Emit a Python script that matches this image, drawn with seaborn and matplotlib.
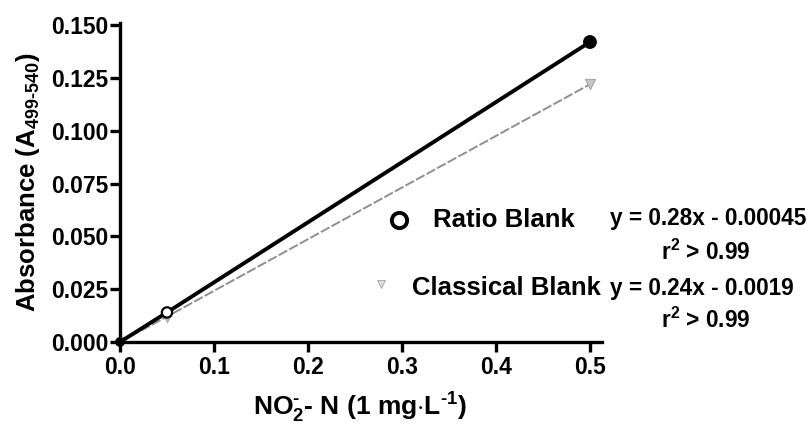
import matplotlib
matplotlib.use("Agg")
import matplotlib.pyplot as plt
import seaborn as sns
import pandas as pd

# ---- data ----
conc = [0.0, 0.05, 0.5]
ratio_abs = [0.0, 0.0140, 0.142]
classical_abs = [0.0, 0.0120, 0.122]
x_ticks = [0.0, 0.1, 0.2, 0.3, 0.4, 0.5]
x_tick_labels = ["0.0", "0.1", "0.2", "0.3", "0.4", "0.5"]
y_ticks = [0.0, 0.025, 0.05, 0.075, 0.1, 0.125, 0.15]
y_tick_labels = ["0.000", "0.025", "0.050", "0.075", "0.100", "0.125", "0.150"]
series_names = ["Ratio Blank", "Classical Blank"]
equations = ["y = 0.28x - 0.00045", "y = 0.24x - 0.0019"]
r2_text = r"r$^{2}$ > 0.99"

sns.set_theme(style="ticks")
plt.rcParams["font.family"] = ["Liberation Sans", "DejaVu Sans"]
plt.rcParams["font.weight"] = "bold"
plt.rcParams["text.color"] = "black"
plt.rcParams["axes.labelcolor"] = "black"
plt.rcParams["mathtext.fontset"] = "custom"
plt.rcParams["mathtext.rm"] = "Liberation Sans:bold"
plt.rcParams["mathtext.bf"] = "Liberation Sans:bold"
plt.rcParams["mathtext.it"] = "Liberation Sans:bold"
plt.rcParams["mathtext.sf"] = "Liberation Sans:bold"
plt.rcParams["mathtext.default"] = "rm"

W, H = 809, 430
fig = plt.figure(figsize=(W / 100, H / 100), dpi=100)
fig.patch.set_facecolor("white")
ax = fig.add_axes([120 / W, 1 - 342 / H, (602 - 120) / W, (342 - 23) / H])
ax.set_facecolor("white")

df_r = pd.DataFrame({"x": conc, "y": ratio_abs})
df_c = pd.DataFrame({"x": conc, "y": classical_abs})

sns.lineplot(data=df_c, x="x", y="y", ax=ax, color="#8f8f8f", lw=1.4,
             dashes=False, zorder=2)
ax.lines[-1].set_dashes((5, 1.2))
sns.scatterplot(data=df_c, x="x", y="y", ax=ax, marker="v", s=55,
                color="#c4c4c4", edgecolor="#9a9a9a", linewidth=0.6, zorder=3)

sns.lineplot(data=df_r, x="x", y="y", ax=ax, color="black", lw=2.8, zorder=4)
ax.scatter(conc, ratio_abs, s=[30, 55, 70], facecolors=["black", "white", "black"],
           edgecolors="black", linewidths=1.6, zorder=5, clip_on=False)

ax.set_xlim(0, 0.5128)
ax.set_ylim(0, 0.151)
ax.set_xticks(x_ticks)
ax.set_xticklabels(x_tick_labels)
ax.set_yticks(y_ticks)
ax.set_yticklabels(y_tick_labels)
ax.set_xlabel("")
ax.set_ylabel("")
for s in ["top", "right"]:
    ax.spines[s].set_visible(False)
for s in ["left", "bottom"]:
    ax.spines[s].set_linewidth(2.4)
    ax.spines[s].set_color("black")
ax.tick_params(axis="both", direction="out", length=7, width=2.4, colors="black",
               labelsize=16.5)
ax.tick_params(axis="x", pad=3)
ax.tick_params(axis="y", pad=1.5)
for lab in ax.get_xticklabels() + ax.get_yticklabels():
    lab.set_fontweight("bold")

# axis labels
fig.text(28 / W, 1 - 182 / H, r"Absorbance (A$_{499\text{-}540}$)", rotation=90,
         ha="center", va="center", fontsize=18.5, fontweight="bold")
fig.text(360 / W, 1 - 408 / H, r"NO$_{2}^{\text{-}}$- N (1 mg$\cdot$L$^{\text{-}1}$)",
         ha="center", va="center", fontsize=19, fontweight="bold")

# legend block
fs_name = 18.5
fs_eq = 16.3
ax.plot([399 / W], [1 - 220 / H], transform=fig.transFigure, marker="o", ms=11,
        mfc="white", mec="black", mew=2.8, clip_on=False, ls="none")
ax.plot([381 / W], [1 - 284 / H], transform=fig.transFigure, marker="v", ms=6,
        mfc="#dddddd", mec="#a0a0a0", mew=0.6, clip_on=False, ls="none")
fig.text(433 / W, 1 - 220 / H, series_names[0], ha="left", va="center",
         fontsize=fs_name, fontweight="bold")
fig.text(412 / W, 1 - 288 / H, series_names[1], ha="left", va="center",
         fontsize=fs_name, fontweight="bold")
fig.text(610 / W, 1 - 219 / H, equations[0], ha="left", va="center",
         fontsize=fs_eq, fontweight="bold")
fig.text(706 / W, 1 - 252 / H, r2_text, ha="center", va="center",
         fontsize=fs_eq, fontweight="bold")
fig.text(610 / W, 1 - 288 / H, equations[1], ha="left", va="center",
         fontsize=fs_eq, fontweight="bold")
fig.text(706 / W, 1 - 320 / H, r2_text, ha="center", va="center",
         fontsize=fs_eq, fontweight="bold")

fig.savefig("out.png", dpi=100, facecolor="white")
